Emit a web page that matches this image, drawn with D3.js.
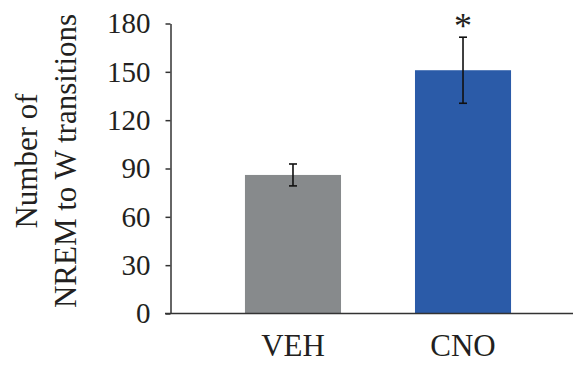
<!DOCTYPE html>
<html>
<head>
  <meta charset="utf-8">
  <title>NREM to W transitions</title>
  <style>
    body { margin: 0; background: #fff; }
    svg text { font-family: "Times New Roman", Times, "Liberation Serif", Tinos, serif; fill: #231f20; }
  </style>
</head>
<body>
  <script src="https://d3js.org/d3.v7.min.js"></script>
  <div id="chart"></div>
  <script>
    // data
    var groups = ["VEH", "CNO"];
    var means = [86, 151];
    var sems = [6.8, 20.5];
    var barColors = ["#878a8c", "#2b5ba8"];
    var yTicks = [0, 30, 60, 90, 120, 150, 180];
    var signif = ["", "*"];

    var width = 573, height = 368;
    var serif = '"Times New Roman", Times, "Liberation Serif", Tinos, serif';

    var svg = d3.select("#chart")
      .append("svg")
        .attr("width", width)
        .attr("height", height);

    var x = d3.scaleBand()
      .domain(groups)
      .range([171, 585])
      .padding(0.435);

    var y = d3.scaleLinear()
      .domain([0, 180])
      .range([313.5, 23.5]);

    // bars
    svg.append("g")
      .selectAll("rect")
      .data(groups)
      .enter()
      .append("rect")
        .attr("x", function(d) { return x(d); })
        .attr("width", x.bandwidth())
        .attr("y", function(d, i) { return y(means[i]); })
        .attr("height", function(d, i) { return y(0) - y(means[i]); })
        .attr("fill", function(d, i) { return barColors[i]; });

    // error bars
    var err = svg.append("g")
      .attr("stroke", "#111")
      .attr("stroke-width", 1.6);

    groups.forEach(function(g, i) {
      var cx = x(g) + x.bandwidth() / 2;
      var top = y(means[i] + sems[i]), bot = y(means[i] - sems[i]);
      err.append("line").attr("x1", cx).attr("x2", cx).attr("y1", top).attr("y2", bot);
      err.append("line").attr("x1", cx - 4).attr("x2", cx + 4).attr("y1", top).attr("y2", top);
      err.append("line").attr("x1", cx - 4).attr("x2", cx + 4).attr("y1", bot).attr("y2", bot);
    });

    // significance star
    svg.append("g")
      .selectAll("text")
      .data(groups)
      .enter()
      .append("text")
        .attr("x", function(d) { return x(d) + x.bandwidth() / 2; })
        .attr("y", function(d, i) { return y(means[i] + sems[i]) + 1; })
        .attr("text-anchor", "middle")
        .style("font-size", "36px")
        .style("font-family", serif)
        .text(function(d, i) { return signif[i]; });

    // y axis
    var yAxis = svg.append("g")
      .attr("transform", "translate(170.5,0)")
      .attr("font-family", null)
      .call(d3.axisLeft(y).tickValues(yTicks).tickSize(5).tickPadding(15).tickSizeOuter(0));
    yAxis.select(".domain").attr("stroke", "#333").attr("stroke-width", 1.5);
    yAxis.selectAll(".tick line").attr("stroke", "#333").attr("stroke-width", 1.5);
    yAxis.selectAll(".tick text")
      .style("font-size", "29px")
      .style("font-family", serif)
      .attr("fill", "#231f20");

    // x axis
    var xAxis = svg.append("g")
      .attr("transform", "translate(0,313.5)")
      .call(d3.axisBottom(x).tickSize(0).tickSizeOuter(0).tickPadding(20));
    xAxis.select(".domain").attr("stroke", "#333").attr("stroke-width", 1.5)
      .attr("d", "M165,0H573");
    xAxis.selectAll(".tick text")
      .style("font-size", "31px")
      .style("font-family", serif)
      .attr("fill", "#231f20");

    // y title
    var title = svg.append("text")
      .attr("transform", "translate(0,161) rotate(-90)")
      .attr("text-anchor", "middle")
      .style("font-size", "31px")
      .style("font-family", serif);
    title.append("tspan").attr("x", 0).attr("y", 37).text("Number of");
    title.append("tspan").attr("x", 0).attr("y", 76).text("NREM to W transitions");
  </script>
</body>
</html>
